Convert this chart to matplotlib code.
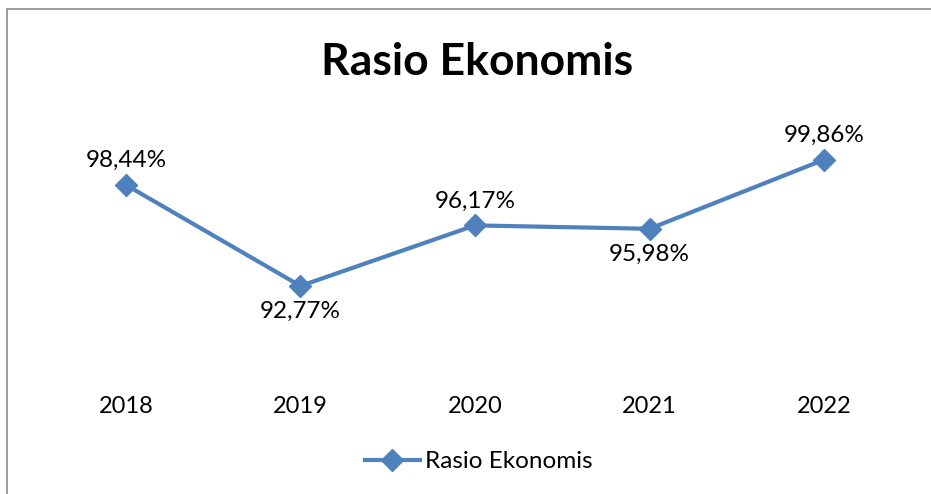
import matplotlib.pyplot as plt
from matplotlib.patches import Rectangle


years = ["2018", "2019", "2020", "2021", "2022"]
values = [98.44, 92.77, 96.17, 95.98, 99.86]
labels = ["98,44%", "92,77%", "96,17%", "95,98%", "99,86%"]
# label placement: above or below the point
label_side = ["above", "below", "above", "below", "above"]

LINE_COLOR = "#4F81BD"
FONT = ["Lato", "DejaVu Sans"]


def main():
    plt.rcParams["font.family"] = FONT

    fig = plt.figure(figsize=(9.31, 4.94), dpi=100)
    fig.patch.set_facecolor("white")

    # chart frame (runs past right/bottom edge as in the screenshot)
    fig.patches.append(Rectangle(
        (7 / 931, -0.05), 1.2, 1 - 9 / 494 + 0.05,
        transform=fig.transFigure, fill=False,
        edgecolor="#8c8c8c", linewidth=1.2
    ))

    ax = fig.add_axes([0.0416, 0.2492, 0.9372, 0.5047])
    x = list(range(len(years)))

    ax.plot(x, values, color=LINE_COLOR, linewidth=3, marker="D",
            markersize=11, label="Rasio Ekonomis", zorder=3)

    for xi, val, txt, side in zip(x, values, labels, label_side):
        if side == "above":
            ax.annotate(txt, (xi, val), xytext=(0, 10), textcoords="offset points",
                        ha="center", va="bottom", fontsize=17.5)
        else:
            ax.annotate(txt, (xi, val), xytext=(0, -11), textcoords="offset points",
                        ha="center", va="top", fontsize=17.5)

    ax.set_xlim(-0.5, 4.5)
    ax.set_ylim(88, 102)
    ax.set_xticks(x)
    ax.set_xticklabels(years, fontsize=17)
    ax.set_yticks([])
    ax.tick_params(axis="x", length=0, pad=18)
    for spine in ax.spines.values():
        spine.set_visible(False)
    ax.patch.set_alpha(0)

    fig.text(0.512, 0.8745, "Rasio Ekonomis", ha="center", va="center",
             fontsize=32, fontweight="bold")

    fig.legend(loc="center", bbox_to_anchor=(0.514, 0.065), frameon=False,
               fontsize=17.5, handlelength=2.26, handletextpad=0.2)

    fig.savefig("out.png", dpi=100)
    plt.close(fig)


if __name__ == "__main__":
    main()
